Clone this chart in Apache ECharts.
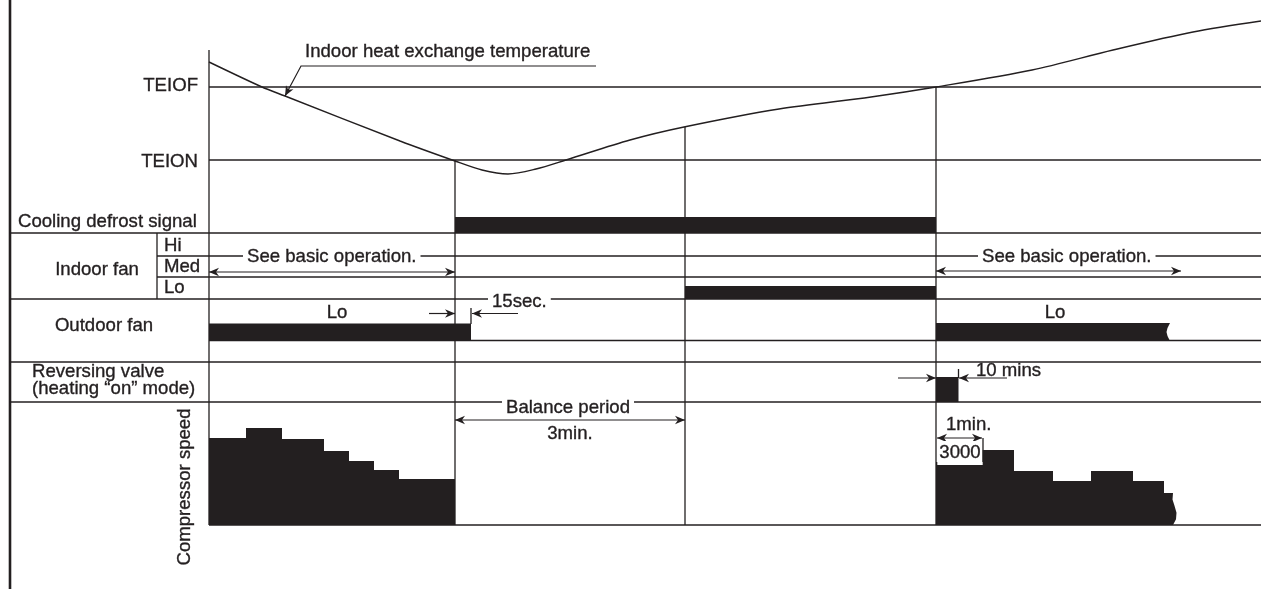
<!DOCTYPE html>
<html><head><meta charset="utf-8">
<script src="https://cdn.jsdelivr.net/npm/echarts@6/dist/echarts.min.js"></script>
<style>html,body{margin:0;padding:0;background:#fff}#c{width:1261px;height:589px}</style>
</head><body><div id="c"></div>
<script>
// ---------- data (x: diagram time units, y: signal level units, top = high) ----------
const tempCurve = [[209,62],[262,87],[285,96],[400,141],[455,161],[482,170],[508,174],[536,169],[566,160],[630,140],[684,127],[779,109],[871,97],[936,87],[1032,70],[1113,50],[1193,32],[1261,21]];
const thresholdNames = ['TEIOF', 'TEION'];
const thresholdLevels = [87, 160];
const eventTimes = [209, 455, 685, 936];          // start, TEION reached, balance end, TEIOF reached
const eventTops  = [50, 160, 127, 87];
const diagramEnd = 1261;
const baseLevel = 525;                             // compressor speed zero line
const rowLines = [[9,233],[157,256],[157,277],[9,299],[209,340.5],[9,362],[9,402]]; // [from, level]
const subColumn = [157, 233, 299];
// on-periods: [start, end, top, bottom]
const defrostSignal = [455, 936, 217, 233];
const indoorFanLo   = [685, 936, 286, 299];
const outdoorFanLo1 = [209, 471, 323.5, 340.5];
const outdoorFanLo2 = [936, 1170, 323, 341];
const reversingValve= [936, 958.5, 377, 402];
// compressor speed steps
const compTimes1 = [209, 246, 282, 324, 349, 374, 399, 455];
const compSpeed1 = [438, 428, 439, 451, 461, 470, 479];
const compTimes2 = [936, 982, 1014, 1053, 1091, 1133, 1164, 1173];
const compSpeed2 = [462, 450, 471, 481, 471, 481, 493];
// arrows: [from, to, level, headAtFrom, headAtTo]
const arrows = [[209,455,272,1,1],[936,1181,271,1,1],[429,455,313.5,0,1],[518,472,313.5,0,1],
                [898,936,378,0,1],[1007,959,378,0,1],[455,685,420,1,1],[937,982,438,1,1]];
const ticks = [[471,308,324],[958.5,369,378],[983,438,462]];    // [time, from, to]
const pointer = [[596,66],[301,66],[285,96]];
const labelTexts = ['Indoor heat exchange temperature','TEIOF','TEION','Cooling defrost signal','Indoor fan','Hi','Med','Lo',
  'See basic operation.','See basic operation.','Outdoor fan','Lo','Lo','15sec.','Reversing valve','(heating “on” mode)',
  '10 mins','Balance period','3min.','1min.','3000','Compressor speed'];
const labelAt = [[305,52],[198,86],[198,162],[18,222],[97,270],[164,246],[164,267],[164,288],
  [243,257],[978,257],[104,326],[337,313],[1055,313],[488,302],[32,372],[32,389],
  [976,371],[568,408],[570,434],[946,425],[960,453],[185,487]];

// ---------- styling ----------
const INK = '#231f20';
const FONT = '18.6px "Liberation Sans", Arial, Helvetica, sans-serif';
const LW = 1.3;
const labelAlign = ['left','right','right','left','center','left','left','left','left','left','center','center','center',
  'left','left','left','left','center','center','left','center','center'];
const labelBg = {8:1, 9:1, 13:1, 17:1};

function line(a, b, w) {
  return {type:'line', shape:{x1:a[0],y1:a[1],x2:b[0],y2:b[1]}, style:{stroke:INK, lineWidth:w||LW}};
}
function head(tip, from) {
  const L = 10, W = 4.2;
  const dx = tip[0]-from[0], dy = tip[1]-from[1], n = Math.hypot(dx,dy);
  const ux = dx/n, uy = dy/n, px = -uy, py = ux;
  const bx = tip[0]-ux*L, by = tip[1]-uy*L;
  return {type:'polygon', shape:{points:[tip,[bx+px*W,by+py*W],[tip[0]-ux*(L-3),tip[1]-uy*(L-3)],[bx-px*W,by-py*W]]},
          style:{fill:INK}};
}
function stepPolygon(api, times, speeds, wavy) {
  const pts = [api.coord([times[0], baseLevel])];
  for (let i = 0; i < speeds.length; i++) {
    pts.push(api.coord([times[i], speeds[i]]));
    pts.push(api.coord([times[i+1], speeds[i]]));
  }
  const end = api.coord([times[times.length-1], speeds[speeds.length-1]]);
  const base = api.coord([times[times.length-1], baseLevel]);
  if (wavy) {
    const h = base[1]-end[1];
    pts.push([end[0]-0.5, end[1]+h*0.2],[end[0]+1.5, end[1]+h*0.4],[end[0]+3.5, end[1]+h*0.62],
             [end[0]+3, end[1]+h*0.82],[end[0], base[1]]);
  } else pts.push(base);
  return {type:'polygon', shape:{points:pts}, style:{fill:INK}};
}

const segs = [];
thresholdLevels.forEach(l => segs.push([eventTimes[0], l, diagramEnd, l]));
rowLines.forEach(r => segs.push([r[0], r[1], diagramEnd, r[1]]));
segs.push([eventTimes[0], baseLevel, diagramEnd, baseLevel]);
eventTimes.forEach((t,i) => segs.push([t, eventTops[i], t, baseLevel]));
segs.push([subColumn[0], subColumn[1], subColumn[0], subColumn[2]]);

const bars = [defrostSignal, indoorFanLo, outdoorFanLo1, reversingValve];

const chart = echarts.init(document.getElementById('c'), null, {renderer:'canvas'});
chart.setOption({
  animation: false,
  backgroundColor: '#fff',
  grid: {left:0, right:0, top:0, bottom:0},
  xAxis: {type:'value', min:0, max:1261, show:false},
  yAxis: {type:'value', min:0, max:589, inverse:true, show:false},
  series: [
    { type:'custom', name:'frame', z:1, data:[[0,0]], renderItem: (p, api) => {
        return line(api.coord([10, 0]), api.coord([10, 589]), 2.6);
    }},
    { type:'custom', name:'rules', z:2, data:segs, renderItem: (p, api) =>
        line(api.coord([api.value(0), api.value(1)]), api.coord([api.value(2), api.value(3)])) },
    { type:'line', name:'Indoor heat exchange temperature', z:3, data:tempCurve, smooth:0.3, showSymbol:false, symbol:'none',
      lineStyle:{color:INK, width:1.4} },
    { type:'custom', name:'on periods', z:4, data:bars, renderItem: (p, api) => {
        const a = api.coord([api.value(0), api.value(2)]), b = api.coord([api.value(1), api.value(3)]);
        return {type:'rect', shape:{x:a[0], y:a[1], width:b[0]-a[0], height:b[1]-a[1]}, style:{fill:INK}};
    }},
    { type:'custom', name:'outdoor fan after', z:4, data:[outdoorFanLo2], renderItem: (p, api) => {
        const a = api.coord([api.value(0), api.value(2)]), b = api.coord([api.value(1), api.value(3)]);
        const m = (a[1]+b[1])/2;
        return {type:'polygon', shape:{points:[a,[b[0],a[1]],[b[0]-2.5,a[1]+5],[b[0]-3.5,m],[b[0]-2.5,b[1]-5],[b[0],b[1]],[a[0],b[1]]]},
                style:{fill:INK}};
    }},
    { type:'custom', name:'compressor speed', z:4, data:[[compTimes1[0], baseLevel],[compTimes2[0], baseLevel]], renderItem: (p, api) =>
        p.dataIndex === 0 ? stepPolygon(api, compTimes1, compSpeed1, false) : stepPolygon(api, compTimes2, compSpeed2, true) },
    { type:'custom', name:'arrows', z:5, data:arrows, renderItem: (p, api) => {
        const a = api.coord([api.value(0), api.value(2)]), b = api.coord([api.value(1), api.value(2)]);
        const ch = [line(a, b, 1.2)];
        if (api.value(3)) ch.push(head(a, b));
        if (api.value(4)) ch.push(head(b, a));
        return {type:'group', children:ch};
    }},
    { type:'custom', name:'pointer', z:5, data:pointer, renderItem: (p, api) => {
        if (p.dataIndex !== 0) return null;
        const pts = pointer.map(q => api.coord(q));
        return {type:'group', children:[
          {type:'polyline', shape:{points:pts}, style:{stroke:INK, lineWidth:1.2, fill:null}},
          head(pts[2], pts[1])]};
    }},
    { type:'custom', name:'labels', z:10, data:labelAt, renderItem: (p, api) => {
        const i = p.dataIndex;
        const c = api.coord([api.value(0), api.value(1)]);
        const st = {text:labelTexts[i], font:FONT, fill:INK, stroke:INK, lineWidth:0.35, align:labelAlign[i], verticalAlign:'middle'};
        if (labelBg[i]) { st.backgroundColor = '#fff'; st.padding = [0,4]; }
        if (labelTexts[i] === '3000') { st.backgroundColor = '#fff'; st.padding = [5,2,1,2]; st.lineHeight = 18; }
        const el = {type:'text', x:c[0], y:c[1], style:st};
        if (labelTexts[i] === 'Compressor speed') el.rotation = Math.PI/2;
        return el;
    }},
    { type:'custom', name:'ticks', z:11, data:ticks, renderItem: (p, api) =>
        line(api.coord([api.value(0), api.value(1)]), api.coord([api.value(0), api.value(2)])) }
  ]
});
</script></body></html>
